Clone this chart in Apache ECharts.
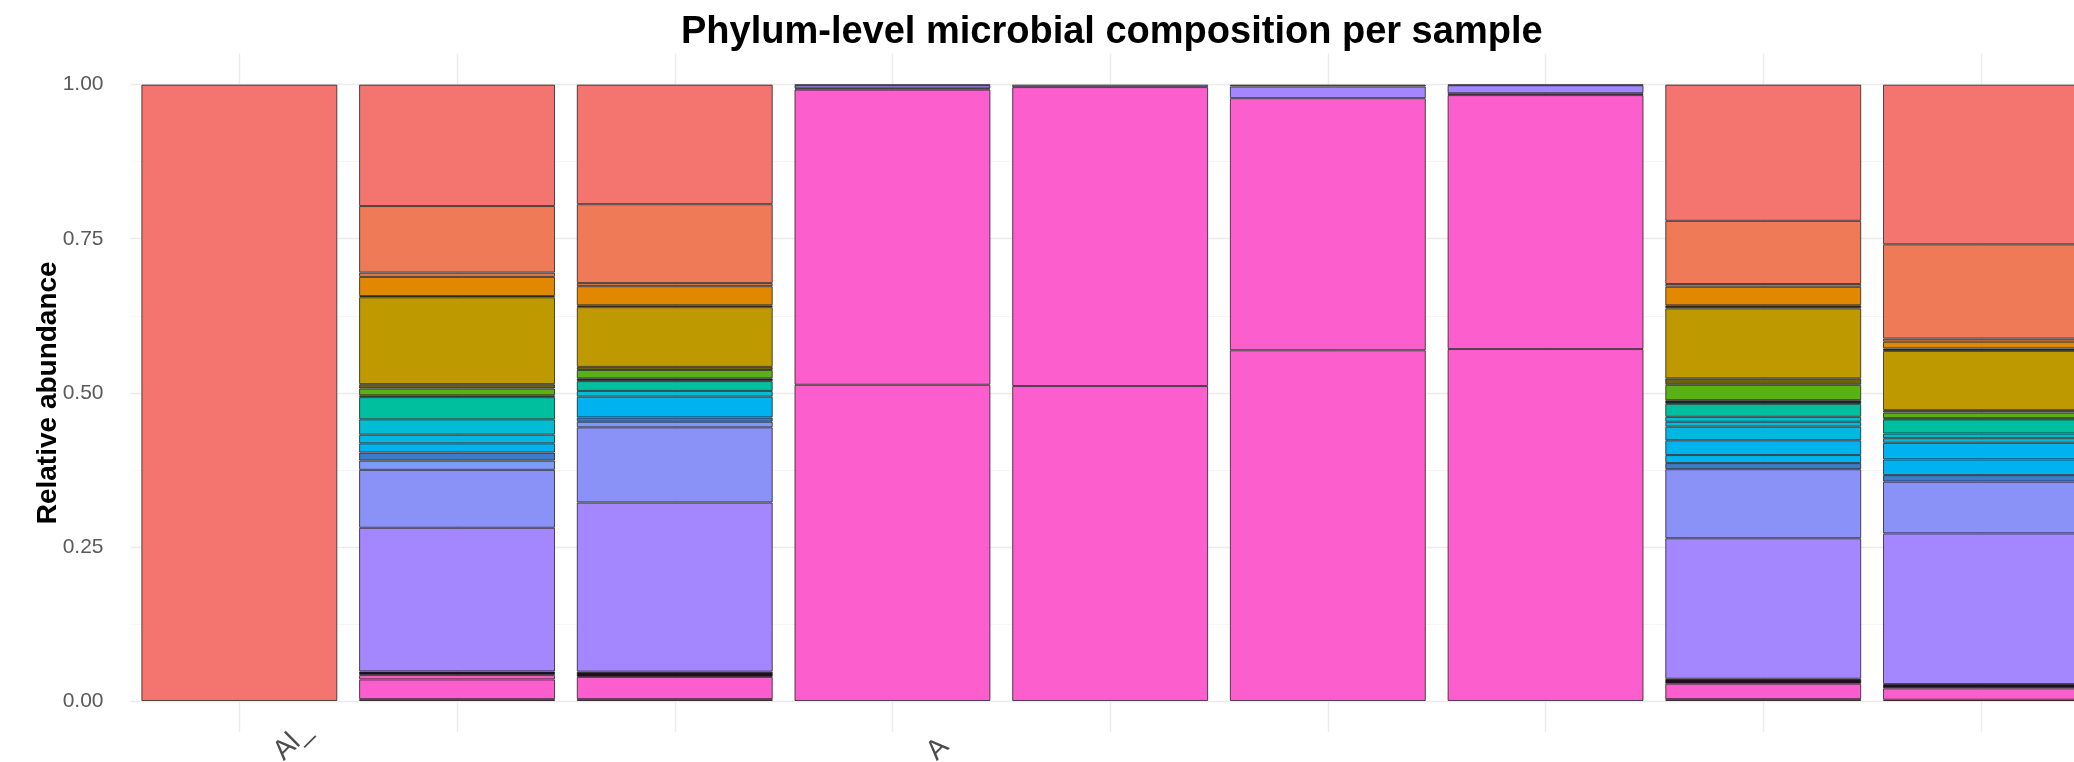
<!DOCTYPE html>
<html><head><meta charset="utf-8">
<script src="https://cdn.jsdelivr.net/npm/echarts@6/dist/echarts.min.js"></script>
<style>html,body{margin:0;padding:0;background:#fff}#chart{width:2074px;height:762px}</style>
</head><body><div id="chart"></div>
<script>
// ---- data ----
const samples = ['S1','S2','S3','S4','S5','S6','S7','S8','S9'];
const xTickLabels = ['Al_','','','A','','','','',''];
const yTicks = [0, 0.25, 0.5, 0.75, 1];
const yMinorTicks = [0.125, 0.375, 0.625, 0.875];

// stacked slices, listed bottom -> top; one value per sample
const L01 = [0, .003, .003, 0, 0, 0, 0, .003, .002];
const L02 = [0, .032, .036, .513, .511, .569, .571, .025, .0185];
const L03 = [0, .007, 0, .479, .485, .409, .412, 0, 0];
const L04 = [0, .006, .0086, .002, 0, 0, .003, .008, .007];
const L05 = [0, .233, .2744, .005, .004, .019, .013, .228, .2444];
const L06 = [0, .094, .122, .001, 0, .003, .001, .112, .084];
const L07 = [0, .015, .009, 0, 0, 0, 0, 0, 0];
const L08 = [0, .013, .007, 0, 0, 0, 0, .010, .0106];
const L09 = [0, .015, .0337, 0, 0, 0, 0, .013, .0254];
const L10 = [0, 0, 0, 0, 0, 0, 0, .024, .027];
const L11 = [0, .014, 0, 0, 0, 0, 0, .022, 0];
const L12 = [0, .025, .0093, 0, 0, 0, 0, .008, .0075];
const L13 = [0, 0, 0, 0, 0, 0, 0, .008, .0075];
const L14 = [0, .036, .016, 0, 0, 0, 0, .021, .023];
const L15 = [0, .003, .0045, 0, 0, 0, 0, .006, .0016];
const L16 = [0, .011, .0135, 0, 0, 0, 0, .025, .0094];
const L17 = [0, .007, .005, 0, 0, 0, 0, .0105, .004];
const L18 = [0, .141, .097, 0, 0, 0, 0, .1135, .096];
const L19 = [0, .002, .003, 0, 0, 0, 0, .005, .004];
const L20 = [0, .031, .031, 0, 0, 0, 0, .030, .011];
const L21 = [0, .007, .005, 0, 0, 0, 0, .0045, .005];
const L22 = [0, .108, .128, 0, 0, 0, 0, .1025, .153];
const L23 = [1, .197, .194, 0, 0, 0, 0, .221, .259];

const layers = [L01,L02,L03,L04,L05,L06,L07,L08,L09,L10,L11,L12,L13,L14,L15,L16,L17,L18,L19,L20,L21,L22,L23];
const layerColors = ['#3b1530','#FC5ECD','#FC5ECD','#1e0f24','#A486FF','#8A91F7','#7D9AF7','#3E7AC8',
  '#00B3F0','#00B3F0','#00B7E2','#00BCD4','#00BDCB','#00BF9F','#0f2f22','#58B312','#6B6412',
  '#BE9A00','#3a2a00','#E18700','#E27A45','#EF7A58','#F4756F'];

// ---- chart ----
const FONT = '"Liberation Sans", Arial, Helvetica, sans-serif';
const chart = echarts.init(document.getElementById('chart'), null, {renderer: 'canvas'});
const series = layers.map((vals, i) => ({
  name: 'Layer ' + (i + 1),
  type: 'bar',
  stack: 'abundance',
  barWidth: '90%',
  data: vals.map(v => (v > 0 ? v : '-')),
  itemStyle: {color: layerColors[i], borderColor: 'rgba(25,25,25,0.75)', borderWidth: 1},
  emphasis: {disabled: true}
}));

chart.setOption({
  animation: false,
  backgroundColor: '#fff',
  title: {
    text: 'Phylum-level microbial composition per sample',
    left: 676, top: 9,
    textStyle: {fontFamily: FONT, fontSize: 38, fontWeight: 'bold', color: '#000'}
  },
  grid: {left: 130.5, width: 1959.3, top: 53.8, bottom: 30.2, outerBoundsMode: 'none', containLabel: false},
  xAxis: {
    type: 'category',
    data: samples,
    boundaryGap: true,
    axisLine: {show: false},
    axisTick: {show: false},
    splitLine: {show: true, alignWithLabel: true, interval: 0, lineStyle: {color: '#ebebeb', width: 1.4}},
    axisLabel: {
      interval: 0, rotate: 45, align: 'left', verticalAlign: 'middle',
      margin: 63, padding: [0, 0, 0, 55],
      fontFamily: FONT, fontSize: 28, color: '#4d4d4d',
      formatter: (v, i) => xTickLabels[i]
    }
  },
  yAxis: [{
    type: 'value', min: -0.05, max: 1.05,
    name: 'Relative abundance', nameLocation: 'middle', nameGap: 68, nameRotate: 90,
    nameMoveOverlap: false,
    nameTextStyle: {fontFamily: FONT, fontSize: 28, fontWeight: 'bold', color: '#000'},
    axisLine: {show: false},
    axisTick: {show: false, customValues: yTicks},
    axisLabel: {customValues: yTicks, margin: 27, fontFamily: FONT, fontSize: 21, color: '#5a5a5a',
      formatter: v => v.toFixed(2)},
    splitLine: {show: true, lineStyle: {color: '#ebebeb', width: 1.4}}
  }, {
    type: 'value', min: -0.05, max: 1.05, position: 'left',
    axisLine: {show: false},
    axisTick: {show: false, customValues: yMinorTicks},
    axisLabel: {show: false, customValues: yMinorTicks},
    splitLine: {show: true, lineStyle: {color: '#f4f4f4', width: 0.8}}
  }],
  series: series
});
</script></body></html>
